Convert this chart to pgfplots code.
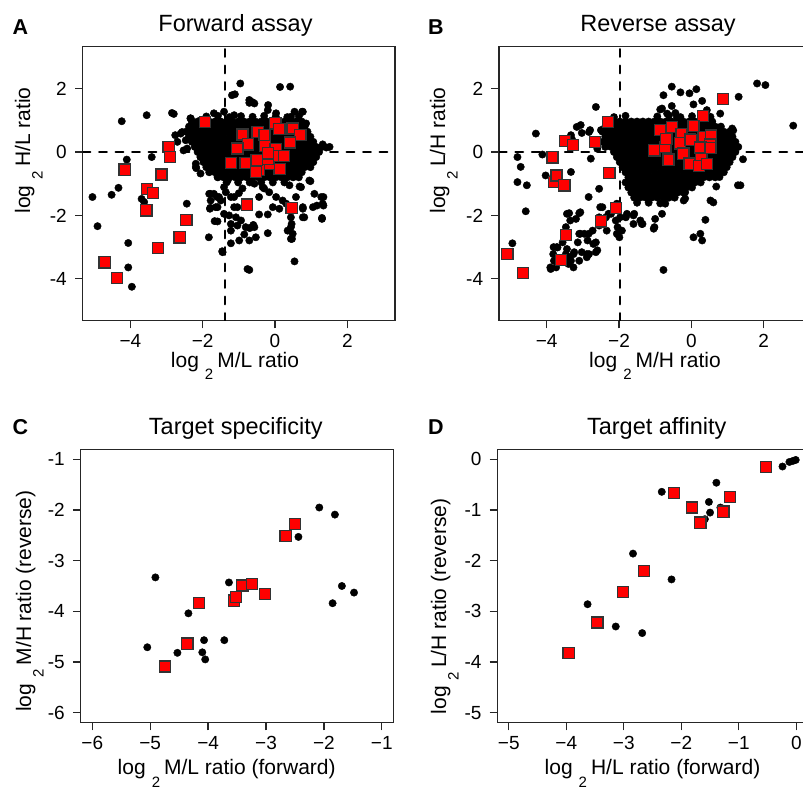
\documentclass[border=0pt]{standalone}
\usepackage{fontspec}
\setmainfont{Liberation Sans}
\usepackage{pgfplots}
\pgfplotsset{compat=1.18}

\newcommand{\ticksize}{\fontsize{19}{19}\selectfont}
\newcommand{\labsize}{\fontsize{21}{21}\selectfont}
\newcommand{\titlesize}{\fontsize{23.5}{23.5}\selectfont}
\newcommand{\letsize}{\fontsize{21.5}{21.5}\selectfont\bfseries}
% log with a lowered base 2
\newcommand{\logtwo}[1]{log\hspace{6pt}\raisebox{-12.5pt}{\fontsize{15}{15}\selectfont 2}\hspace{4pt}#1}

\pgfplotsset{
  panel/.style={
    scale only axis,
    anchor=south west,
    axis line style={line width=1.2pt, black!85},
    every tick/.style={line width=1.2pt, black!85},
    tick align=outside,
    tick pos=left,
    major tick length=7.7pt,
    xticklabel style={font=\ticksize, inner sep=0pt, anchor=north},
    yticklabel style={font=\ticksize, inner sep=0pt, anchor=east},
    xticklabel shift=5.6pt,
    yticklabel shift=8pt,
  },
  dots/.style={only marks, mark=*, mark size=3.7pt, mark options={fill=black, draw=none}},
  boxes/.style={only marks, mark=square*, mark size=5.6pt, mark options={fill=red, draw=black!80, line width=1.3pt}},
  refline/.style={black, line width=2.5pt, dash pattern=on 7.5pt off 9pt, line cap=round},
}

\begin{document}
\begin{tikzpicture}

% ---------------- A: forward assay ----------------
\begin{axis}[panel, at={(82.7pt,469.3pt)}, width=312.3pt, height=274pt,
  xmin=-5.32, xmax=3.32, ymin=-5.32, ymax=3.32,
  xtick={-4,-2,0,2}, xticklabels={−4,−2,0,2},
  ytick={-4,-2,0,2}, yticklabels={-4,-2,0,2}]
\addplot[refline] coordinates {(-1.39,-5.32) (-1.39,3.32)};
\addplot[refline] coordinates {(-5.32,0) (3.32,0)};
% dense core
\addplot[dots] coordinates {
(-1.90,1.12) (-1.58,1.14) (-1.26,1.10) (-0.94,1.13) (-0.62,1.11) (-0.30,1.14) (0.02,1.12) (0.34,1.10) (0.66,1.13)
(-2.30,0.96) (-2.14,0.96) (-1.98,0.96) (-1.82,0.96) (-1.66,0.96) (-1.50,0.96) (-1.34,0.96) (-1.18,0.96) (-1.02,0.96) (-0.86,0.96) (-0.70,0.96) (-0.54,0.96) (-0.38,0.96) (-0.22,0.96) (-0.06,0.96) (0.10,0.96) (0.26,0.96) (0.42,0.96) (0.58,0.96) (0.74,0.96)
(-2.38,0.80) (-2.22,0.80) (-2.06,0.80) (-1.90,0.80) (-1.74,0.80) (-1.58,0.80) (-1.42,0.80) (-1.26,0.80) (-1.10,0.80) (-0.94,0.80) (-0.78,0.80) (-0.62,0.80) (-0.46,0.80) (-0.30,0.80) (-0.14,0.80) (0.02,0.80) (0.18,0.80) (0.34,0.80) (0.50,0.80) (0.66,0.80) (0.82,0.80)
(-2.46,0.64) (-2.30,0.64) (-2.14,0.64) (-1.98,0.64) (-1.82,0.64) (-1.66,0.64) (-1.50,0.64) (-1.34,0.64) (-1.18,0.64) (-1.02,0.64) (-0.86,0.64) (-0.70,0.64) (-0.54,0.64) (-0.38,0.64) (-0.22,0.64) (-0.06,0.64) (0.10,0.64) (0.26,0.64) (0.42,0.64) (0.58,0.64) (0.74,0.64) (0.90,0.64)
(-2.38,0.48) (-2.22,0.48) (-2.06,0.48) (-1.90,0.48) (-1.74,0.48) (-1.58,0.48) (-1.42,0.48) (-1.26,0.48) (-1.10,0.48) (-0.94,0.48) (-0.78,0.48) (-0.62,0.48) (-0.46,0.48) (-0.30,0.48) (-0.14,0.48) (0.02,0.48) (0.18,0.48) (0.34,0.48) (0.50,0.48) (0.66,0.48) (0.82,0.48) (0.98,0.48)
(-2.30,0.32) (-2.14,0.32) (-1.98,0.32) (-1.82,0.32) (-1.66,0.32) (-1.50,0.32) (-1.34,0.32) (-1.18,0.32) (-1.02,0.32) (-0.86,0.32) (-0.70,0.32) (-0.54,0.32) (-0.38,0.32) (-0.22,0.32) (-0.06,0.32) (0.10,0.32) (0.26,0.32) (0.42,0.32) (0.58,0.32) (0.74,0.32) (0.90,0.32) (1.06,0.32)
(-2.22,0.16) (-2.06,0.16) (-1.90,0.16) (-1.74,0.16) (-1.58,0.16) (-1.42,0.16) (-1.26,0.16) (-1.10,0.16) (-0.94,0.16) (-0.78,0.16) (-0.62,0.16) (-0.46,0.16) (-0.30,0.16) (-0.14,0.16) (0.02,0.16) (0.18,0.16) (0.34,0.16) (0.50,0.16) (0.66,0.16) (0.82,0.16) (0.98,0.16) (1.14,0.16) (1.30,0.16)
(-2.14,0) (-1.98,0) (-1.82,0) (-1.66,0) (-1.50,0) (-1.34,0) (-1.18,0) (-1.02,0) (-0.86,0) (-0.70,0) (-0.54,0) (-0.38,0) (-0.22,0) (-0.06,0) (0.10,0) (0.26,0) (0.42,0) (0.58,0) (0.74,0) (0.90,0) (1.06,0) (1.22,0)
(-2.06,-0.16) (-1.90,-0.16) (-1.74,-0.16) (-1.58,-0.16) (-1.42,-0.16) (-1.26,-0.16) (-1.10,-0.16) (-0.94,-0.16) (-0.78,-0.16) (-0.62,-0.16) (-0.46,-0.16) (-0.30,-0.16) (-0.14,-0.16) (0.02,-0.16) (0.18,-0.16) (0.34,-0.16) (0.50,-0.16) (0.66,-0.16) (0.82,-0.16) (0.98,-0.16) (1.14,-0.16)
(-1.98,-0.32) (-1.82,-0.32) (-1.66,-0.32) (-1.50,-0.32) (-1.34,-0.32) (-1.18,-0.32) (-1.02,-0.32) (-0.86,-0.32) (-0.70,-0.32) (-0.54,-0.32) (-0.38,-0.32) (-0.22,-0.32) (-0.06,-0.32) (0.10,-0.32) (0.26,-0.32) (0.42,-0.32) (0.58,-0.32) (0.74,-0.32) (0.90,-0.32) (1.06,-0.32)
(-1.90,-0.48) (-1.74,-0.48) (-1.58,-0.48) (-1.42,-0.48) (-1.26,-0.48) (-1.10,-0.48) (-0.94,-0.48) (-0.78,-0.48) (-0.62,-0.48) (-0.46,-0.48) (-0.30,-0.48) (-0.14,-0.48) (0.02,-0.48) (0.18,-0.48) (0.34,-0.48) (0.50,-0.48) (0.66,-0.48) (0.82,-0.48) (0.98,-0.48)
(-1.82,-0.64) (-1.66,-0.64) (-1.50,-0.64) (-1.34,-0.64) (-1.18,-0.64) (-1.02,-0.64) (-0.86,-0.64) (-0.70,-0.64) (-0.54,-0.64) (-0.38,-0.64) (-0.22,-0.64) (-0.06,-0.64) (0.10,-0.64) (0.26,-0.64) (0.42,-0.64) (0.58,-0.64) (0.74,-0.64)
(-1.58,-0.80) (-1.42,-0.80) (-1.26,-0.80) (-1.10,-0.80) (-0.94,-0.80) (-0.78,-0.80) (-0.62,-0.80) (-0.46,-0.80) (-0.30,-0.80) (-0.14,-0.80) (0.02,-0.80) (0.18,-0.80) (0.34,-0.80) (0.50,-0.80) (0.66,-0.80)
(-1.34,-0.96) (-1.02,-0.96) (-0.70,-0.96) (-0.38,-0.96) (-0.06,-0.96) (0.26,-0.96)
};
% scattered proteins
\addplot[dots] coordinates {
(-4.24,0.97) (-3.55,1.16) (-2.85,1.23) (-2.80,1.20) (-4.10,-0.24) (-3.41,-0.16) (-4.33,-1.13) (-4.52,-1.35)
(-5.05,-1.42) (-3.69,-1.48) (-3.62,-1.58) (-4.91,-2.34) (-4.06,-2.87) (-4.06,-3.64) (-3.96,-4.25) (-2.44,-1.63)
(-1.79,-1.32) (-1.60,-1.42) (-1.79,-1.76) (-1.67,-2.18) (-1.83,-2.69) (-1.46,-3.13) (-2.18,-0.51) (-2.34,1.06)
(-2.76,0.53) (-2.57,0.63) (-2.53,0.05) (-1.19,1.79) (-0.96,2.16) (-1.11,1.82) (0.14,2.05) (0.42,2.06)
(-0.71,1.55) (-0.62,1.57) (-0.19,1.48) (0.75,1.27) (1.42,0.14) (0.61,-0.68) (0.98,-0.92) (0.68,-1.09)
(0.58,-1.42) (1.34,-1.42) (1.16,-1.69) (1.34,-1.69) (0.77,-1.74) (0.81,-2.06) (1.30,-2.11) (0.44,-2.37)
(0.47,-2.74) (0.54,-3.45) (-0.71,-3.72) (-0.44,-1.97) (-0.20,-1.97) (-0.20,-2.56) (-0.60,-2.30) (-0.70,-2.40)
(-0.85,-2.60) (-1.22,-2.27) (-1.04,-2.32) (-1.22,-2.88) (-0.99,-2.79) (-1.45,-3.16) (-1.59,-2.19)
(-1.59,-0.79) (-1.55,-1.42) (-1.64,-1.74) (-1.36,-1.27) (-1.22,-1.42) (-1.13,-1.74) (-1.27,-2.00) (-1.08,-2.06)
(-0.57,-1.00) (-0.34,-1.11) (-0.16,-1.27) (0.03,-1.42) (0.21,-1.53) (-0.44,-1.42) (-0.06,-1.74) (0.12,-1.79) (0.31,-1.63)
(-1.69,-1.32) (-1.50,-1.53) (-1.59,-1.74) (-1.41,-1.95) (-1.13,-1.42) (-1.04,-1.74) (-0.94,-2.16) (-1.22,-2.48)
(-0.81,-2.37) (-0.57,-2.37) (-0.53,-2.69) (-0.71,-2.79) (-0.76,-3.69)
(0.44,-2.06) (0.46,-2.27) (0.35,-2.48) (0.49,-2.58) (0.44,-2.74)
(0.77,-2.06) (1.05,-1.74) (1.28,-1.42) (1.32,-1.63) (1.30,-2.08) (1.09,-1.32) (0.77,-1.79)
(0.95,-0.90) (0.72,-1.11) (1.32,0.24) (1.51,0.16) (0.86,0.90)
(-2.19,-0.47) (-2.06,-0.68) (-1.82,-1.32) (-1.78,-1.53) (-1.80,-1.79) (-1.41,-1.11) (-1.31,-0.90)
(-0.71,1.64) (-0.57,1.53) (-0.20,1.32) (0.03,1.22) (0.54,1.27) (0.77,1.27) (0.44,1.11)
(-2.33,1.06) (-2.24,0.90) (-2.06,1.00) (-1.69,1.22) (-1.41,1.27) (-1.13,1.16)
(-2.61,0.58) (-2.47,0.37) (-2.70,0.32) (-2.43,0.11) (-2.06,-0.16) (-2.19,-0.37)
(-0.30,-1.15) (0.40,-1.05) (-0.90,-1.15) (-1.00,-1.30)
};
\addplot[boxes] coordinates {
(-1.94,0.95) (-2.94,0.16) (-2.91,-0.16) (-4.16,-0.56) (-3.14,-0.71) (-3.54,-1.16) (-3.37,-1.30) (-3.56,-1.84)
(-2.45,-2.14) (-2.64,-2.69) (-3.23,-3.03) (-4.71,-3.48) (-4.37,-3.98) (-0.78,-1.66) (0.46,-1.76)
(-0.90,0.55) (-0.75,0.24) (-1.04,0.11) (-1.22,-0.35) (-0.81,-0.34) (-0.48,0.63) (-0.29,0.53) (-0.27,0.19)
(0.01,0.90) (0.12,0.73) (0.49,0.74) (0.70,0.54) (0.41,0.30) (0.13,-0.53) (-0.16,-0.38) (-0.49,-0.42)
(-0.44,-0.57) (0.02,0.10) (0.02,-0.12) (-0.20,-0.21) (0.25,-0.12) (-0.51,-0.25) (-0.19,-0.04) (-0.53,-0.63)
};
\end{axis}

% ---------------- B: reverse assay ----------------
\begin{axis}[panel, at={(499pt,469.3pt)}, width=312.3pt, height=274pt,
  xmin=-5.32, xmax=3.32, ymin=-5.32, ymax=3.32,
  xtick={-4,-2,0,2}, xticklabels={−4,−2,0,2},
  ytick={-4,-2,0,2}, yticklabels={-4,-2,0,2}]
\addplot[refline] coordinates {(-1.97,-5.32) (-1.97,3.32)};
\addplot[refline] coordinates {(-5.32,0) (3.32,0)};
% dense core
\addplot[dots] coordinates {
(-2.14,1.10) (-1.82,1.14) (-0.94,1.12) (-0.62,1.15) (-0.30,1.10) (0.02,1.13) (0.34,1.12)
(-2.30,0.96) (-2.14,0.96) (-1.98,0.96) (-1.82,0.96) (-1.66,0.96) (-1.50,0.96) (-1.34,0.96) (-1.18,0.96) (-1.02,0.96) (-0.86,0.96) (-0.70,0.96) (-0.54,0.96) (-0.38,0.96) (-0.22,0.96) (-0.06,0.96) (0.10,0.96) (0.26,0.96) (0.42,0.96) (0.58,0.96)
(-2.38,0.80) (-2.22,0.80) (-2.06,0.80) (-1.90,0.80) (-1.74,0.80) (-1.58,0.80) (-1.42,0.80) (-1.26,0.80) (-1.10,0.80) (-0.94,0.80) (-0.78,0.80) (-0.62,0.80) (-0.46,0.80) (-0.30,0.80) (-0.14,0.80) (0.02,0.80) (0.18,0.80) (0.34,0.80) (0.50,0.80) (0.66,0.80) (0.82,0.80)
(-2.46,0.64) (-2.30,0.64) (-2.14,0.64) (-1.98,0.64) (-1.82,0.64) (-1.66,0.64) (-1.50,0.64) (-1.34,0.64) (-1.18,0.64) (-1.02,0.64) (-0.86,0.64) (-0.70,0.64) (-0.54,0.64) (-0.38,0.64) (-0.22,0.64) (-0.06,0.64) (0.10,0.64) (0.26,0.64) (0.42,0.64) (0.58,0.64) (0.74,0.64) (0.90,0.64) (1.06,0.64)
(-2.38,0.48) (-2.22,0.48) (-2.06,0.48) (-1.90,0.48) (-1.74,0.48) (-1.58,0.48) (-1.42,0.48) (-1.26,0.48) (-1.10,0.48) (-0.94,0.48) (-0.78,0.48) (-0.62,0.48) (-0.46,0.48) (-0.30,0.48) (-0.14,0.48) (0.02,0.48) (0.18,0.48) (0.34,0.48) (0.50,0.48) (0.66,0.48) (0.82,0.48) (0.98,0.48) (1.14,0.48)
(-2.46,0.32) (-2.30,0.32) (-2.14,0.32) (-1.98,0.32) (-1.82,0.32) (-1.66,0.32) (-1.50,0.32) (-1.34,0.32) (-1.18,0.32) (-1.02,0.32) (-0.86,0.32) (-0.70,0.32) (-0.54,0.32) (-0.38,0.32) (-0.22,0.32) (-0.06,0.32) (0.10,0.32) (0.26,0.32) (0.42,0.32) (0.58,0.32) (0.74,0.32) (0.90,0.32) (1.06,0.32) (1.22,0.32)
(-2.38,0.16) (-2.22,0.16) (-2.06,0.16) (-1.90,0.16) (-1.74,0.16) (-1.58,0.16) (-1.42,0.16) (-1.26,0.16) (-1.10,0.16) (-0.94,0.16) (-0.78,0.16) (-0.62,0.16) (-0.46,0.16) (-0.30,0.16) (-0.14,0.16) (0.02,0.16) (0.18,0.16) (0.34,0.16) (0.50,0.16) (0.66,0.16) (0.82,0.16) (0.98,0.16) (1.14,0.16) (1.30,0.16)
(-2.14,0) (-1.98,0) (-1.82,0) (-1.66,0) (-1.50,0) (-1.34,0) (-1.18,0) (-1.02,0) (-0.86,0) (-0.70,0) (-0.54,0) (-0.38,0) (-0.22,0) (-0.06,0) (0.10,0) (0.26,0) (0.42,0) (0.58,0) (0.74,0) (0.90,0) (1.06,0) (1.22,0)
(-2.06,-0.16) (-1.90,-0.16) (-1.74,-0.16) (-1.58,-0.16) (-1.42,-0.16) (-1.26,-0.16) (-1.10,-0.16) (-0.94,-0.16) (-0.78,-0.16) (-0.62,-0.16) (-0.46,-0.16) (-0.30,-0.16) (-0.14,-0.16) (0.02,-0.16) (0.18,-0.16) (0.34,-0.16) (0.50,-0.16) (0.66,-0.16) (0.82,-0.16) (0.98,-0.16) (1.14,-0.16)
(-1.98,-0.32) (-1.82,-0.32) (-1.66,-0.32) (-1.50,-0.32) (-1.34,-0.32) (-1.18,-0.32) (-1.02,-0.32) (-0.86,-0.32) (-0.70,-0.32) (-0.54,-0.32) (-0.38,-0.32) (-0.22,-0.32) (-0.06,-0.32) (0.10,-0.32) (0.26,-0.32) (0.42,-0.32) (0.58,-0.32) (0.74,-0.32) (0.90,-0.32) (1.06,-0.32)
(-1.90,-0.48) (-1.74,-0.48) (-1.58,-0.48) (-1.42,-0.48) (-1.26,-0.48) (-1.10,-0.48) (-0.94,-0.48) (-0.78,-0.48) (-0.62,-0.48) (-0.46,-0.48) (-0.30,-0.48) (-0.14,-0.48) (0.02,-0.48) (0.18,-0.48) (0.34,-0.48) (0.50,-0.48) (0.66,-0.48) (0.82,-0.48) (0.98,-0.48)
(-1.82,-0.64) (-1.66,-0.64) (-1.50,-0.64) (-1.34,-0.64) (-1.18,-0.64) (-1.02,-0.64) (-0.86,-0.64) (-0.70,-0.64) (-0.54,-0.64) (-0.38,-0.64) (-0.22,-0.64) (-0.06,-0.64) (0.10,-0.64) (0.26,-0.64) (0.42,-0.64) (0.58,-0.64) (0.74,-0.64) (0.90,-0.64)
(-1.74,-0.80) (-1.58,-0.80) (-1.42,-0.80) (-1.26,-0.80) (-1.10,-0.80) (-0.94,-0.80) (-0.78,-0.80) (-0.62,-0.80) (-0.46,-0.80) (-0.30,-0.80) (-0.14,-0.80) (0.02,-0.80) (0.18,-0.80) (0.34,-0.80) (0.50,-0.80) (0.66,-0.80)
(-1.82,-0.96) (-1.66,-0.96) (-1.50,-0.96) (-1.34,-0.96) (-1.18,-0.96) (-1.02,-0.96) (-0.86,-0.96) (-0.70,-0.96) (-0.54,-0.96) (-0.38,-0.96) (-0.22,-0.96) (-0.06,-0.96) (0.10,-0.96) (0.26,-0.96)
(-1.74,-1.12) (-1.58,-1.12) (-1.42,-1.12) (-1.26,-1.12) (-1.10,-1.12) (-0.94,-1.12) (-0.78,-1.12) (-0.62,-1.12) (-0.46,-1.12) (-0.30,-1.12) (-0.14,-1.12) (0.02,-1.12)
(-1.66,-1.28) (-1.50,-1.28) (-1.34,-1.28) (-1.18,-1.28) (-1.02,-1.28) (-0.86,-1.28) (-0.70,-1.28) (-0.54,-1.28) (-0.38,-1.28) (-0.22,-1.28)
(-1.58,-1.44) (-1.42,-1.44) (-1.26,-1.44) (-1.10,-1.44) (-0.94,-1.44) (-0.78,-1.44) (-0.62,-1.44) (-0.46,-1.44)
(-1.50,-1.60) (-1.18,-1.60) (-0.86,-1.62)
};
% scattered proteins
\addplot[dots] coordinates {
(-2.64,1.42) (-4.30,0.58) (-4.81,-0.16) (-4.72,-0.47) (-4.81,-0.95) (-4.55,-1.05) (-4.58,-1.87) (-4.95,-2.88)
(-4.12,-0.08) (-4.03,-0.74) (-3.33,-0.63) (-2.78,-0.21) (-2.55,-1.16) (-2.84,-1.42) (-3.38,-1.93) (-3.10,-1.93) (-3.19,-2.11)
(-3.06,0.85) (-3.33,0.53) (-2.50,0.69) (-2.83,0.63) (-3.17,0.79) (-3.03,0.60) (-2.80,0.69) (-3.30,0.40) (-2.70,0.30) (-2.60,0.10)
(-3.89,-3.69) (-3.80,-3.43) (-3.70,-3.01) (-3.47,-2.37) (-3.38,-3.32) (-3.10,-2.58) (-2.87,-2.79) (-2.64,-2.85)
(-2.64,-3.16) (-2.73,-2.48) (-2.46,-1.74) (-2.22,-1.95) (-2.04,-2.37) (-1.99,-2.69) (-1.81,-2.06) (-1.58,-1.95)
(-1.35,-2.27) (-3.90,-3.64) (-3.81,-3.00) (-2.89,-3.22) (-2.60,-3.10) (-2.34,-2.48) (-1.60,-2.27) (-1.41,-2.16) (-1.04,-2.42)
(-3.56,-2.85) (-3.24,-3.16) (-2.96,-2.58) (-2.83,-3.22) (-2.55,-2.32) (-2.36,-2.06) (-2.09,-2.16) (-2.55,-2.06)
(-3.82,-3.22) (-3.74,-3.64) (-3.47,-3.22) (-3.33,-3.43) (-3.10,-3.43) (-3.14,-2.85)
(-3.72,-3.00) (-3.44,-3.06) (-3.26,-3.22) (-3.03,-3.16) (-2.89,-3.32) (-3.40,-3.53) (-3.26,-3.64)
(-3.44,-1.95) (-3.07,-1.90) (-3.35,-2.16) (-3.07,-2.58) (-2.84,-2.58) (-2.71,-2.90)
(-2.52,-1.74) (-2.43,-2.16) (-2.29,-1.95) (-2.06,-1.63) (-1.97,-2.06) (-1.78,-1.95) (-2.06,-2.58) (-1.92,-2.48)
(-0.21,-1.53) (0.39,-2.14) (0.06,-2.69) (0.30,-2.79) (0.25,-2.58) (-0.77,-3.72) (1.36,-1.05) (0.53,-1.53) (0.61,-1.59)
(1.82,2.16) (2.05,2.11) (2.82,0.83) (1.31,1.74) (-0.54,2.06) (-0.77,1.79) (-0.30,1.88) (-0.05,1.85)
(0.14,1.98) (0.30,1.61) (0.06,1.50) (-0.54,1.45) (-0.44,1.23) (-0.86,1.34) (-0.67,1.21) (1.13,0.74) (1.16,0.68)
(1.43,-0.23) (1.29,-1.05) (0.69,-1.09)
(-0.17,-1.27) (-0.17,-1.47) (-0.49,-1.37) (-0.72,-1.42) (-0.72,-1.63) (-0.81,-1.95) (-1.00,-2.11) (-1.02,-2.37)
(-1.37,-2.27) (-1.60,-2.00)
(0.78,-0.79) (0.85,-0.58) (0.20,-0.87) (0.30,-0.68) (-0.40,1.11) (-0.81,1.37) (0.43,1.32) (0.80,1.21) (0.53,1.11)
};
\addplot[boxes] coordinates {
(-2.30,0.95) (-3.50,0.35) (-3.27,0.22) (-2.67,0.32) (-3.84,-0.17) (-3.80,-0.95) (-3.73,-0.74) (-3.51,-1.05)
(-2.27,-0.66) (-2.09,-1.77) (-2.50,-2.19) (-3.47,-2.61) (-3.60,-3.41) (-5.09,-3.22) (-4.65,-3.82)
(0.88,1.67) (0.32,1.14) (-0.86,0.69) (-0.54,0.79) (-0.27,0.57) (0.06,0.82) (0.34,0.48) (0.55,0.52)
(-1.02,0.05) (-0.72,0.16) (-0.31,0.27) (-0.03,0.40) (-0.63,-0.24) (-0.22,-0.05) (-0.05,-0.37) (0.21,-0.44)
(0.28,-0.10) (0.43,-0.38) (0.52,0.23) (0.00,0.38) (-0.69,0.41) (0.25,0.14) (0.53,0.12)
};
\end{axis}

% ---------------- C: target specificity ----------------
\begin{axis}[panel, at={(80.7pt,67.3pt)}, width=312.7pt, height=273.4pt,
  xmin=-6.2, xmax=-0.8, ymin=-6.2, ymax=-0.8,
  xtick={-6,-5,-4,-3,-2,-1}, xticklabels={−6,−5,−4,−3,−2,−1},
  ytick={-6,-5,-4,-3,-2,-1}, yticklabels={-6,-5,-4,-3,-2,-1}]
\addplot[dots] coordinates {
(-2.08,-1.95) (-1.81,-2.09) (-2.44,-2.53) (-4.91,-3.33) (-3.64,-3.43) (-1.69,-3.50) (-1.48,-3.63) (-1.85,-3.84)
(-4.34,-4.04) (-5.05,-4.71) (-4.53,-4.82) (-4.07,-4.57) (-3.72,-4.57) (-4.10,-4.81) (-4.05,-4.95)
};
\addplot[boxes] coordinates {
(-2.50,-2.28) (-2.66,-2.51) (-3.41,-3.49) (-3.24,-3.46) (-3.02,-3.66) (-3.55,-3.79) (-3.52,-3.72)
(-4.16,-3.84) (-4.36,-4.64) (-4.74,-5.09)
};
\end{axis}

% ---------------- D: target affinity ----------------
\begin{axis}[panel, at={(497.3pt,67.3pt)}, width=310.5pt, height=273.4pt,
  xmin=-5.2, xmax=0.2, ymin=-5.2, ymax=0.2,
  xtick={-5,-4,-3,-2,-1,0}, xticklabels={−5,−4,−3,−2,−1,0},
  ytick={-5,-4,-3,-2,-1,0}, yticklabels={-5,-4,-3,-2,-1,0}]
\addplot[dots] coordinates {
(-2.34,-0.64) (-1.39,-0.46) (-1.52,-0.84) (-1.50,-1.05) (-1.32,-0.95) (-1.59,-1.18) (-0.24,-0.14)
(-0.12,-0.05) (-0.06,-0.03) (-0.01,-0.01) (-2.84,-1.86) (-2.17,-2.37) (-3.63,-2.86) (-3.14,-3.30) (-2.68,-3.43)
};
\addplot[boxes] coordinates {
(-0.53,-0.15) (-2.13,-0.66) (-1.15,-0.74) (-1.81,-0.95) (-1.27,-1.03) (-1.67,-1.25) (-2.65,-2.20)
(-3.01,-2.62) (-3.46,-3.22) (-3.96,-3.82)
};
\end{axis}

% titles, panel letters and axis labels
\node[anchor=base, font=\titlesize] at (235.5pt,758.3pt) {Forward assay};
\node[anchor=base, font=\titlesize] at (658pt,758.3pt) {Reverse assay};
\node[anchor=base, font=\titlesize] at (235.8pt,355.7pt) {Target specificity};
\node[anchor=base, font=\titlesize] at (656.7pt,355.7pt) {Target affinity};

\node[anchor=base west, inner sep=0pt, font=\letsize] at (12.5pt,755pt) {A};
\node[anchor=base west, inner sep=0pt, font=\letsize] at (428pt,755pt) {B};
\node[anchor=base west, inner sep=0pt, font=\letsize] at (12.5pt,355pt) {C};
\node[anchor=base west, inner sep=0pt, font=\letsize] at (428pt,355pt) {D};

\node[anchor=base, inner sep=0pt, font=\labsize] at (235pt,422.5pt) {\logtwo{M/L ratio}};
\node[anchor=base, inner sep=0pt, font=\labsize] at (655pt,422.5pt) {\logtwo{M/H ratio}};
\node[anchor=base, inner sep=0pt, font=\labsize] at (226.7pt,15.5pt) {\logtwo{M/L ratio (forward)}};
\node[anchor=base, inner sep=0pt, font=\labsize] at (652.5pt,15.5pt) {\logtwo{H/L ratio (forward)}};

\node[anchor=base, inner sep=0pt, rotate=90, font=\labsize] at (30pt,639.5pt) {\logtwo{H/L ratio}};
\node[anchor=base, inner sep=0pt, rotate=90, font=\labsize] at (445pt,639.5pt) {\logtwo{L/H ratio}};
\node[anchor=base, inner sep=0pt, rotate=90, font=\labsize] at (31pt,189pt) {\logtwo{M/H ratio (reverse)}};
\node[anchor=base, inner sep=0pt, rotate=90, font=\labsize] at (446pt,183.5pt) {\logtwo{L/H ratio (reverse)}};

\pgfresetboundingbox
\path[use as bounding box] (0pt,0pt) rectangle (803pt,790pt);
\end{tikzpicture}
\end{document}
